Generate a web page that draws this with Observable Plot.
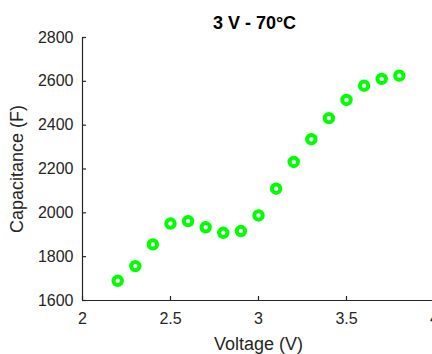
<!DOCTYPE html>
<html>
<head>
<meta charset="utf-8">
<script src="https://cdn.jsdelivr.net/npm/d3@7"></script>
<script src="https://cdn.jsdelivr.net/npm/@observablehq/plot@0.6"></script>
<style>
  html, body { margin: 0; padding: 0; background: #fff; }
  svg { display: block; }
</style>
</head>
<body>
<div id="chart"></div>
<script>
// Capacitance measured at each cell voltage (3 V cell, 70 °C)
const voltage = [2.2, 2.3, 2.4, 2.5, 2.6, 2.7, 2.8, 2.9, 3.0, 3.1, 3.2, 3.3, 3.4, 3.5, 3.6, 3.7, 3.8];
const capacitance = [1690, 1757, 1856, 1951, 1962, 1934, 1909, 1917, 1988, 2110, 2232, 2336, 2432, 2515, 2580, 2611, 2626];
const xTicks = [2, 2.5, 3, 3.5, 4];
const yTicks = [1600, 1800, 2000, 2200, 2400, 2600, 2800];
const title = "3 V - 70°C";

const data = voltage.map((v, i) => ({v, c: capacitance[i]}));

const W = 432, H = 354;
const mL = 82, mT = 37, mB = 54, mR = -2;
const frameH = H - mT - mB;
const frameW = W - mL - mR;
const ink = "#262626";
const tickLen = 4;

const plot = Plot.plot({
  width: W,
  height: H,
  marginLeft: mL,
  marginTop: mT,
  marginBottom: mB,
  marginRight: mR,
  style: {fontFamily: "'Liberation Sans', Arial, sans-serif", background: "#fff", overflow: "hidden"},
  x: {domain: [2, 4], ticks: xTicks, tickFormat: d => String(d)},
  y: {domain: [1600, 2800], ticks: yTicks, tickFormat: d => String(d)},
  marks: [
    // inward tick marks
    Plot.ruleX(xTicks, {x: d => d, insetTop: frameH - tickLen, stroke: ink, strokeWidth: 1.2}),
    Plot.ruleY(yTicks, {y: d => d, insetRight: frameW - tickLen, stroke: ink, strokeWidth: 1.2}),
    // axis lines
    Plot.ruleX([2], {stroke: ink, strokeWidth: 1.2}),
    Plot.ruleY([1600], {stroke: ink, strokeWidth: 1.2}),
    Plot.axisX({ticks: xTicks, tickSize: 0, tickPadding: 12, fontSize: 16, color: ink, label: "Voltage (V)", labelAnchor: "center", labelArrow: "none", labelOffset: 49, tickFormat: d => String(d)}),
    Plot.axisY({ticks: yTicks, tickSize: 0, tickPadding: 9, fontSize: 16, color: ink, label: "Capacitance (F)", labelAnchor: "center", labelArrow: "none", labelOffset: 72, tickFormat: d => String(d)}),
    Plot.dot(data, {x: "v", y: "c", r: 4.2, stroke: "#00ff00", strokeWidth: 4, fill: "none"}),
    Plot.text([title], {frameAnchor: "top", dy: -14, dx: -4, fontSize: 18, fontWeight: "bold", fill: "#000", lineAnchor: "middle"})
  ]
});

// larger axis titles, drawn in the same dark grey
plot.querySelectorAll("[aria-label='x-axis label'] text, [aria-label='y-axis label'] text").forEach(t => {
  t.setAttribute("font-size", 18);
  t.setAttribute("fill", ink);
});
document.getElementById("chart").appendChild(plot);
</script>
</body>
</html>
